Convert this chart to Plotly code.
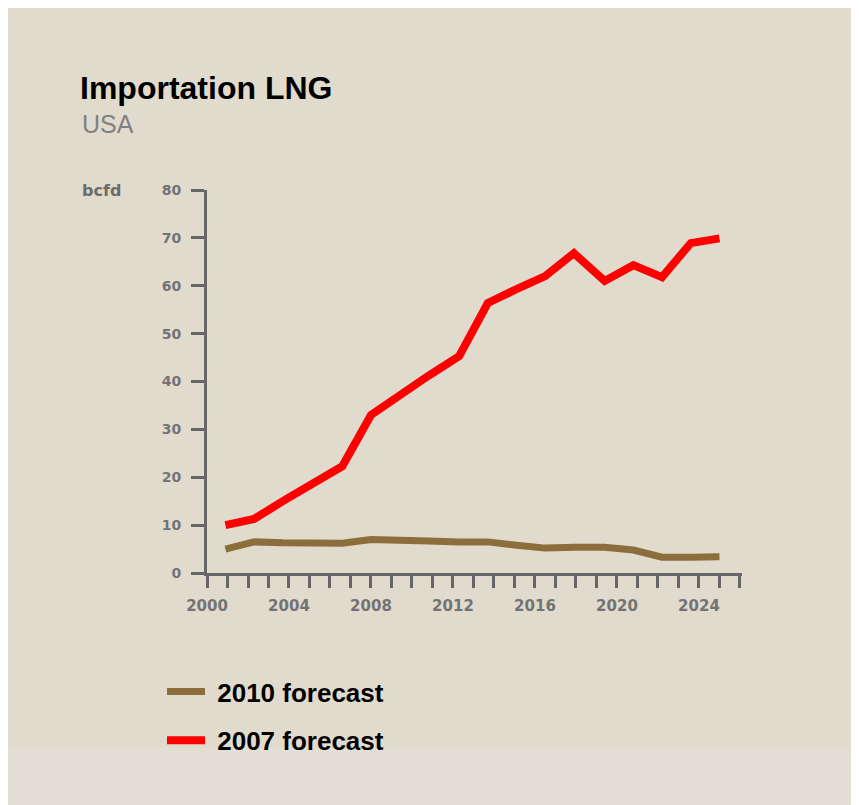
import plotly.graph_objects as go

# x positions (years) of the data points as they sit on the axis
years = [2000.9, 2002.3, 2003.7, 2005.2, 2006.6, 2008.0, 2009.4, 2010.8, 2012.3,
         2013.7, 2015.1, 2016.5, 2017.9, 2019.4, 2020.8, 2022.2, 2023.6, 2025.0]

# bcfd
forecast_2010 = [5.0, 6.5, 6.3, 6.3, 6.2, 7.0, 7.0, 6.7, 6.5,
                 6.5, 5.8, 5.2, 5.4, 5.4, 4.8, 3.3, 3.3, 3.4]
forecast_2007 = [10.0, 11.3, 15.0, 18.8, 22.3, 33.0, 37.2, 41.2, 45.3,
                 56.4, 59.3, 62.0, 66.8, 61.0, 64.3, 61.8, 68.9, 69.9]

y_ticks = [0, 10, 20, 30, 40, 50, 60, 70, 80]
x_tick_labels = [2000, 2004, 2008, 2012, 2016, 2020, 2024]

W, H = 851, 797
L, R, T, B = 199, 117, 182, 232
PW, PH = W - L - R, H - T - B


def px_x(x):
    # page pixel -> paper fraction
    return (x - L) / PW


def px_y(y):
    return (H - B - y) / PH


BEIGE = "#e0dbcd"
AXIS = "#666666"

trace_2010 = go.Scatter(x=years, y=forecast_2010, mode="lines",
                        name="\u00a02010 forecast", legendgroup="a",
                        line=dict(color="#8b6e3c", width=7))
trace_2007 = go.Scatter(x=years, y=forecast_2007, mode="lines",
                        name="\u00a02007 forecast", legendgroup="b",
                        line=dict(color="#ff0000", width=8))

fig = go.Figure(data=[trace_2010, trace_2007])

tickfont = dict(family="DejaVu Sans", size=14, color="#737373", weight="bold")

fig.update_layout(
    width=W, height=H,
    margin=dict(l=L, r=R, t=T, b=B),
    paper_bgcolor=BEIGE,
    plot_bgcolor="rgba(0,0,0,0)",
    title=dict(text="<b>Importation LNG</b>", xref="container", yref="container",
               x=72 / W, y=1 - 80 / H, xanchor="left", yanchor="middle",
               font=dict(family="Liberation Sans", size=32, color="#000000")),
    showlegend=True,
    legend=dict(x=px_x(154), y=px_y(660), xanchor="left", yanchor="top",
                bgcolor="rgba(0,0,0,0)", tracegroupgap=12, itemwidth=38,
                font=dict(family="Liberation Sans", size=26, color="#000000", weight="bold")),
    xaxis=dict(range=[2000, 2026.1], tickmode="array",
               tickvals=list(range(2000, 2027)),
               ticktext=[str(y) if y in x_tick_labels else "" for y in range(2000, 2027)],
               showgrid=False, zeroline=False, showline=True, linecolor=AXIS, linewidth=3,
               ticks="outside", ticklen=12, tickwidth=3, tickcolor=AXIS,
               ticklabelstandoff=5,
               tickfont=dict(tickfont, size=15)),
    yaxis=dict(range=[0, 80], tickvals=y_ticks,
               showgrid=False, zeroline=False, showline=True, linecolor=AXIS, linewidth=3,
               ticks="outside", ticklen=13, tickwidth=3, tickcolor=AXIS,
               ticklabelstandoff=7,
               tickfont=tickfont),
    annotations=[
        dict(text="USA", xref="paper", yref="paper", x=px_x(72), y=px_y(116),
             xanchor="left", yanchor="middle", showarrow=False,
             font=dict(family="Liberation Sans", size=25, color="#808080")),
        dict(text="bcfd", xref="paper", yref="paper", x=px_x(72), y=px_y(182),
             xanchor="left", yanchor="middle", showarrow=False,
             font=dict(family="DejaVu Sans", size=16, color="#6b6b6b", weight="bold")),
    ],
    shapes=[
        # slightly lighter band at the bottom of the page
        dict(type="rect", xref="paper", yref="paper", layer="below",
             x0=px_x(-10), x1=px_x(W + 10), y0=px_y(H + 10), y1=px_y(740),
             fillcolor="#e2ded3", line=dict(width=0)),
    ],
)

fig.write_html("out.html")
